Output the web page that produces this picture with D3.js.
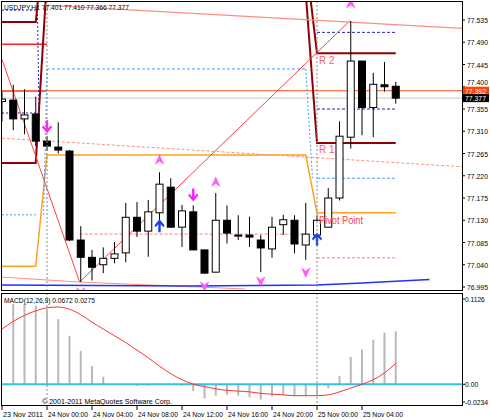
<!DOCTYPE html>
<html><head><meta charset="utf-8">
<script src="https://cdn.jsdelivr.net/npm/d3@7"></script>
<style>body{margin:0;background:#fff}text{font-family:"Liberation Sans",Arial,sans-serif;font-size:8px}</style>
</head><body><svg id="c" width="490" height="420"></svg>
<script>
const opens  = [77.370,77.373,77.335,77.345,77.290,77.278,77.270,77.090,77.055,77.040,77.053,77.064,77.136,77.108,77.145,77.197,77.116,77.147,77.070,77.025,77.130,77.100,77.100,77.090,77.072,77.121,77.130,77.080,77.100,77.116,77.175,77.298,77.452,77.358,77.404,77.401];
const highs  = [77.390,77.404,77.395,77.380,77.300,77.328,77.272,77.118,77.070,77.075,77.086,77.165,77.167,77.171,77.227,77.215,77.161,77.160,77.070,77.185,77.160,77.140,77.137,77.100,77.137,77.141,77.140,77.165,77.140,77.195,77.330,77.533,77.452,77.428,77.450,77.410];
const lows   = [77.330,77.312,77.304,77.280,77.270,77.265,77.088,77.005,77.008,77.023,77.043,77.045,77.096,77.056,77.125,77.115,77.076,77.070,77.023,77.025,77.083,77.090,77.076,77.025,77.054,77.100,77.063,77.050,77.100,77.116,77.170,77.275,77.302,77.298,77.390,77.366];
const closes = [77.375,77.335,77.343,77.290,77.280,77.272,77.090,77.055,77.035,77.053,77.062,77.136,77.108,77.147,77.203,77.116,77.149,77.070,77.023,77.130,77.104,77.098,77.096,77.074,77.116,77.131,77.082,77.102,77.130,77.175,77.300,77.452,77.358,77.405,77.400,77.377];
const macdHist = [null,.106,.106,.104,.098,.086,.064,.044,.024,.010,0,0,-.002,-.002,.001,-.001,-.002,-.009,-.019,-.015,-.014,-.015,-.017,-.020,-.016,-.014,-.016,-.016,-.015,-.005,.011,.036,.046,.059,.068,.070];
const macdSignal = [.073,.083,.091,.097,.101,.102,.099,.092,.082,.073,.064,.055,.045,.035,.024,.014,.006,0,-.003,-.006,-.008,-.009,-.010,-.012,-.013,-.014,-.015,-.015,-.015,-.014,-.010,-.005,0,.006,.015,.0275];
const priceTicks = [77.535,77.490,77.445,77.400,77.355,77.310,77.265,77.220,77.175,77.130,77.085,77.040,76.995];
const macdTicks = [[0.1126,"0.1126"],[0,"0.00"],[-0.0234,"-0.0234"]];
const timeTicks = [[0,"23 Nov 2011"],[4,"24 Nov 00:00"],[8,"24 Nov 04:00"],[12,"24 Nov 08:00"],[16,"24 Nov 12:00"],[20,"24 Nov 16:00"],[24,"24 Nov 20:00"],[28,"25 Nov 00:00"],[32,"25 Nov 04:00"]];
const levels = [
 [0,4,77.486,"#ff2020",null,1.5],[0,4,77.391,"#ff3010",null,1],
 [0,3,77.555,"#2020c0","2,2",1],[0,3,77.347,"#2020c0","2,2",1],[0,3,77.141,"#40a0ff","2,2",1],
 [4,27,77.436,"#40a0ff","3,2",1],[6.9,27,77.102,"#ff8070","3,2",1],
 [28,35,77.510,"#2020c0","3,2",1],[28,35,77.355,"#2020c0","3,2",1],[28,35,77.215,"#40a0ff","3,2",1],[28,35,77.054,"#ff8070","3,2",1],
 [0,41,77.392,"#ff5020",null,1],[0,41,77.377,"#c8c8c8",null,1]];
const polylines = [
 {pts:[[0,77.037],[3,77.037],[4,77.262],[27,77.262],[28,77.145],[35,77.145]],c:"#ffa020",w:1.5},
 {pts:[[0,77.246],[3,77.246],[4,77.62]],c:"#900000",w:2},
 {pts:[[0,77.531],[3,77.531],[3.4,77.62]],c:"#900000",w:2},
 {pts:[[26.9,77.62],[28,77.286],[35,77.286]],c:"#900000",w:2},
 {pts:[[27.2,77.62],[28,77.468],[35,77.468]],c:"#900000",w:2},
 {pts:[[0,77.455],[6.9,77.005],[30.9,77.533]],c:"#ff4040",w:1},
 {pts:[[3.8,77.565],[41,77.518]],c:"#ff9080",w:1.3},
 {pts:[[0,77.296],[41,77.238]],c:"#ff9080",w:1,d:"3,2"},
 {pts:[[0,77.015],[6.9,77.005],[21.6,76.991]],c:"#ff9080",w:1},
 {pts:[[0,76.999],[16.7,76.997],[28,76.999],[32,77.003],[38,77.010]],c:"#2030ff",w:1.5},
 {pts:[[3.1,77.62],[3.3,77.347]],c:"#2020c0",w:1,d:"2,2"},
 {pts:[[4,77.436],[3.7,77.141]],c:"#40a0ff",w:1,d:"2,2"},
 {pts:[[27,77.436],[27.6,77.215]],c:"#40a0ff",w:1,d:"2,2"}];
const arrowsDown=[[4,77.318],[17,77.18]], arrowsUp=[[14,77.12],[28,77.093]];
const fracUp=[[14,77.252],[19,77.207],[31,77.568]], fracDn=[[7,76.985],[18,76.997],[23,77.007],[27,77.025]];

const svg=d3.select("#c");
const x=d3.scaleLinear().domain([0,1]).range([2,13.25]);
const y=d3.scaleLinear().domain([76.995,77.535]).range([287,20]);
const ym=d3.scaleLinear().domain([-0.0234,0.1126]).range([402,299]);
const txt=(sel,tx,ty,s,len)=>{const t=sel.append("text").attr("x",tx).attr("y",ty).text(s);if(len)t.attr("textLength",len).attr("lengthAdjust","spacingAndGlyphs");return t;};
svg.append("clipPath").attr("id","cp").append("rect").attr("x",1).attr("y",1).attr("width",461).attr("height",289);
const g=svg.append("g").attr("clip-path","url(#cp)");
[4,28].forEach(i=>svg.append("line").attr("x1",x(i)).attr("x2",x(i)).attr("y1",1).attr("y2",405).attr("stroke","#888").attr("stroke-dasharray","2,2"));
levels.forEach(l=>g.append("line").attr("x1",x(l[0])).attr("x2",x(l[1])).attr("y1",y(l[2])).attr("y2",y(l[2])).attr("stroke",l[3]).attr("stroke-width",l[5]).attr("stroke-dasharray",l[4]));
const ln=d3.line().x(d=>x(d[0])).y(d=>y(d[1]));
polylines.forEach(p=>g.append("path").attr("d",ln(p.pts)).attr("fill","none").attr("stroke",p.c).attr("stroke-width",p.w).attr("stroke-dasharray",p.d||null));
opens.forEach((o,i)=>{const c=closes[i],cx=x(i);
 g.append("line").attr("x1",cx).attr("x2",cx).attr("y1",y(highs[i])).attr("y2",y(lows[i])).attr("stroke","#000");
 g.append("rect").attr("x",cx-3.5).attr("width",7).attr("y",y(Math.max(o,c))).attr("height",Math.max(1,Math.abs(y(o)-y(c)))).attr("fill",c>=o?"#fff":"#000").attr("stroke","#000");});
txt(g,x(28)+2,y(77.468)+11,"R 2").attr("fill","#ff6060").style("font-size","10px");
txt(g,x(28)+2,y(77.286)+10,"R 1").attr("fill","#ff6060").style("font-size","10px");
txt(g,x(28)+2,y(77.145)+11,"Pivot Point",44).attr("fill","#ff4040").style("font-size","10px");
const arr=(cx,cy,dir,col)=>g.append("path").attr("transform",`translate(${cx},${cy}) scale(1,${dir})`).attr("d","M-1.2,-7 H1.2 V1 L4,-2 L5,0 L0,6 L-5,0 L-4,-2 L-1.2,1Z").attr("fill",col);
arrowsDown.forEach(a=>arr(x(a[0]),y(a[1]),1,"#ff20ff"));
arrowsUp.forEach(a=>arr(x(a[0]),y(a[1]),-1,"#1040ff"));
const fr=(cx,cy,dir)=>g.append("path").attr("transform",`translate(${cx},${cy}) scale(1,${dir})`).attr("d","M0,-5 L4,4 L0,1 L-4,4Z").attr("fill","#ff60ff").attr("stroke","#ff20ff").attr("stroke-width",0.5);
fracUp.forEach(f=>fr(x(f[0]),y(f[1]),1));
fracDn.forEach(f=>fr(x(f[0]),y(f[1]),-1));
svg.append("rect").attr("x",1.5).attr("y",1.5).attr("width",461).attr("height",289).attr("fill","none").attr("stroke","#000");
svg.append("rect").attr("x",1.5).attr("y",293.5).attr("width",461).attr("height",112).attr("fill","none").attr("stroke","#000");
priceTicks.forEach(p=>{svg.append("line").attr("x1",462).attr("x2",465).attr("y1",y(p)).attr("y2",y(p)).attr("stroke","#000");
 txt(svg,467,y(p)+(p===77.4?-2:3),p.toFixed(3),21);});
[[77.392,"#ff4500"],[77.377,"#000"]].forEach(b=>{svg.append("rect").attr("x",463).attr("y",y(b[0])-4).attr("width",26).attr("height",8).attr("fill",b[1]);
 txt(svg,465,y(b[0])+3,b[0].toFixed(3),21).attr("fill","#fff");});
txt(svg,4,10,"USDJPY,H1  77.401 77.410 77.366 77.377",125);
const mg=svg.append("g");
macdHist.forEach((v,i)=>{if(v==null)return;mg.append("rect").attr("x",x(i)-1).attr("width",2).attr("y",ym(Math.max(v,0))).attr("height",Math.max(0.5,Math.abs(ym(v)-ym(0)))).attr("fill","#b8b8b8");});
mg.append("line").attr("x1",2).attr("x2",462).attr("y1",ym(0)).attr("y2",ym(0)).attr("stroke","#30c0e8").attr("stroke-width",2);
mg.append("path").attr("d",d3.line().x((d,i)=>x(i)).y(d=>ym(d)).curve(d3.curveMonotoneX)(macdSignal)).attr("fill","none").attr("stroke","#ff3030");
macdTicks.forEach(t=>{svg.append("line").attr("x1",462).attr("x2",465).attr("y1",ym(t[0])).attr("y2",ym(t[0])).attr("stroke","#000");
 txt(svg,465,ym(t[0])+3,t[1],t[1].length*3.3);});
txt(svg,4,303,"MACD(12,26,9) 0.0672 0.0275",91);
txt(svg,42,404,"© 2001-2011 MetaQuotes Software Corp.",130);
timeTicks.forEach(t=>{svg.append("line").attr("x1",x(t[0])).attr("x2",x(t[0])).attr("y1",406).attr("y2",410).attr("stroke","#000");
 txt(svg,x(t[0])+1,417,t[1],40);});
</script></body></html>
